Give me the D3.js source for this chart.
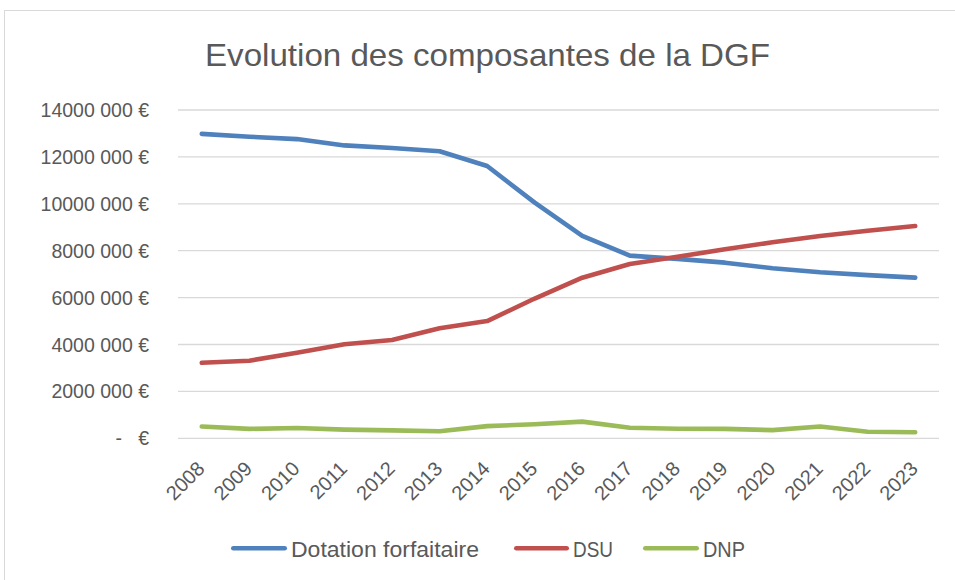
<!DOCTYPE html>
<html>
<head>
<meta charset="utf-8">
<script src="https://cdn.jsdelivr.net/npm/d3@7/dist/d3.min.js"></script>
<style>
  html, body { margin: 0; padding: 0; background: #fff; }
  svg { display: block; }
  text { font-family: "Liberation Sans", Arial, sans-serif; fill: #595959; }
</style>
</head>
<body>
<svg id="chart" width="955" height="580"></svg>
<script>
// ---- Data ----
const title = "Evolution des composantes de la DGF";
const years = ["2008","2009","2010","2011","2012","2013","2014","2015","2016","2017","2018","2019","2020","2021","2022","2023"];
const dotationForfaitaire = [12980000,12860000,12760000,12490000,12380000,12240000,11610000,10050000,8630000,7790000,7650000,7490000,7250000,7080000,6960000,6850000];
const dsu = [3220000,3310000,3650000,4010000,4190000,4690000,5000000,5960000,6850000,7430000,7740000,8060000,8360000,8630000,8850000,9050000];
const dnp = [500000,400000,440000,370000,340000,300000,520000,600000,710000,450000,410000,400000,350000,500000,280000,260000];
const seriesNames = ["Dotation forfaitaire","DSU","DNP"];
const yTickValues = [0,2000000,4000000,6000000,8000000,10000000,12000000,14000000];
const yTickLabels = ["-   €","2000 000 €","4000 000 €","6000 000 €","8000 000 €","10000 000 €","12000 000 €","14000 000 €"];

const colors = ["#4F81BD","#C0504D","#9BBB59"];
const seriesValues = [dotationForfaitaire, dsu, dnp];

const svg = d3.select("#chart");

// frame
svg.append("rect")
  .attr("x", 4.5).attr("y", 10.5)
  .attr("width", 1000).attr("height", 1000)
  .attr("fill", "#fff").attr("stroke", "#d9d9d9").attr("stroke-width", 1);

// title
svg.append("text")
  .attr("x", 487.5).attr("y", 66)
  .attr("text-anchor", "middle")
  .attr("font-size", 32)
  .attr("textLength", 565)
  .attr("lengthAdjust", "spacingAndGlyphs")
  .text(title);

// scales
const x = d3.scaleBand().domain(years).range([178, 939]);
const y = d3.scaleLinear().domain([0, 14000000]).range([438.3, 110]);
const cx = d => x(d) + x.bandwidth() / 2;

// gridlines
svg.append("g").selectAll("line")
  .data(yTickValues)
  .join("line")
  .attr("x1", 178).attr("x2", 939)
  .attr("y1", d => y(d)).attr("y2", d => y(d))
  .attr("stroke", "#d9d9d9").attr("stroke-width", 1.3);

// y labels
svg.append("g").selectAll("text")
  .data(yTickValues)
  .join("text")
  .attr("x", 149)
  .attr("y", d => y(d))
  .attr("dy", "0.36em")
  .attr("text-anchor", "end")
  .attr("font-size", 19.5)
  .style("white-space", "pre")
  .text((d, i) => yTickLabels[i]);

// x labels
svg.append("g").selectAll("text")
  .data(years)
  .join("text")
  .attr("text-anchor", "end")
  .attr("font-size", 20)
  .attr("transform", d => `translate(${cx(d) + 4},${470}) rotate(-45)`)
  .text(d => d);

// lines
const line = d3.line()
  .x((d, i) => cx(years[i]))
  .y(d => y(d));

svg.append("g").selectAll("path")
  .data(seriesValues)
  .join("path")
  .attr("d", d => line(d))
  .attr("fill", "none")
  .attr("stroke", (d, i) => colors[i])
  .attr("stroke-width", 4.6)
  .attr("stroke-linejoin", "round")
  .attr("stroke-linecap", "round");

// legend
const legendItems = [
  { x1: 231, x2: 287, tx: 291, tw: 188 },
  { x1: 514, x2: 569, tx: 573, tw: 40 },
  { x1: 643, x2: 699, tx: 703, tw: 42 }
];
const lg = svg.append("g");
legendItems.forEach((it, i) => {
  lg.append("line")
    .attr("x1", it.x1 + 2.3).attr("x2", it.x2 - 2.3)
    .attr("y1", 548.3).attr("y2", 548.3)
    .attr("stroke", colors[i]).attr("stroke-width", 4.6)
    .attr("stroke-linecap", "round");
  lg.append("text")
    .attr("x", it.tx).attr("y", 556.5)
    .attr("font-size", 21.5)
    .attr("textLength", it.tw)
    .attr("lengthAdjust", "spacingAndGlyphs")
    .text(seriesNames[i]);
});
</script>
</body>
</html>
